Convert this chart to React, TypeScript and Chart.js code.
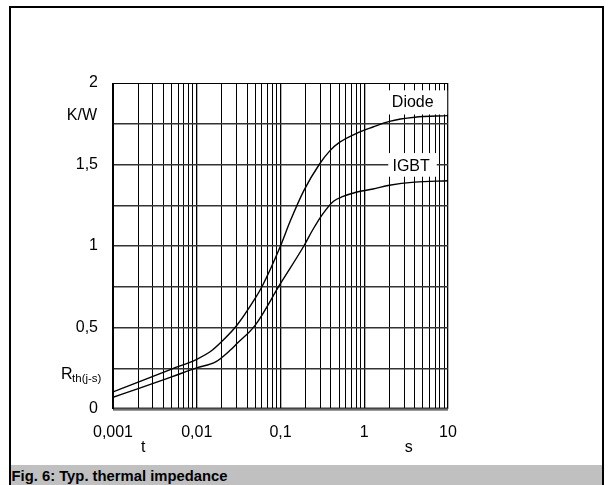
import React, { useEffect, useRef } from 'react';
import { Chart, registerables } from 'chart.js';

Chart.register(...registerables);

const FONT = '"Liberation Sans", Arial, Helvetica, sans-serif';

// Data (t in s, Z_th in K/W)
const diodeT = [0.001, 0.002, 0.005, 0.01, 0.015, 0.02, 0.03, 0.05, 0.06, 0.1, 0.13, 0.19, 0.29, 0.39, 0.51, 0.8, 1.27, 2, 4, 10];
const diodeZ = [0.105, 0.165, 0.245, 0.305, 0.357, 0.415, 0.512, 0.68, 0.75, 1.0, 1.15, 1.34, 1.5, 1.585, 1.637, 1.69, 1.73, 1.765, 1.79, 1.8];
const igbtT = [0.001, 0.002, 0.005, 0.01, 0.017, 0.025, 0.03, 0.05, 0.1, 0.19, 0.24, 0.32, 0.43, 0.56, 0.8, 1.27, 2, 4, 10];
const igbtZ = [0.072, 0.125, 0.197, 0.252, 0.291, 0.36, 0.4, 0.515, 0.77, 1.0, 1.095, 1.197, 1.275, 1.304, 1.33, 1.35, 1.373, 1.392, 1.4];

// Axis ticks
const xDecades = [0.001, 0.01, 0.1, 1, 10];
const xTickLabels = ['0,001', '0,01', '0,1', '1', '10'];
const xMinorMultipliers = [1, 2, 3, 4, 5, 6, 7, 8, 9];
const yTickValues = [0, 0.5, 1, 1.5, 2];
const yTickLabels = ['0', '0,5', '1', '1,5', '2'];

const seriesNames = ['Diode', 'IGBT'];
const caption = 'Fig. 6: Typ. thermal impedance';

const near = (a: number, b: number) => Math.abs(a - b) <= Math.abs(b) * 1e-6 + 1e-9;

function xGridValues(): number[] {
  const vals: number[] = [];
  for (let d = 0; d < xDecades.length - 1; d++) {
    for (const m of xMinorMultipliers) vals.push(Number((m * xDecades[d]).toPrecision(4)));
  }
  vals.push(xDecades[xDecades.length - 1]);
  return vals;
}

const decorPlugin = {
  id: 'decor',
  beforeDraw(chart: any) {
    const { ctx, chartArea } = chart;
    const ys = chart.scales.y;
    const y0 = ys.getPixelForValue(0);
    ctx.save();
    ctx.fillStyle = '#9a9a9a';
    ctx.fillRect(chartArea.left, y0 - 2, chartArea.right - chartArea.left, 4);
    ctx.restore();
  },
  beforeDatasetsDraw(chart: any) {
    const { ctx, chartArea } = chart;
    const xs = chart.scales.x;
    const ys = chart.scales.y;
    const xl = xs.getPixelForValue(2) - 1.2;
    ctx.save();
    ctx.fillStyle = '#fff';
    // Diode label box
    ctx.fillRect(xl, ys.getPixelForValue(1.955), chartArea.right - 0.8 - xl, ys.getPixelForValue(1.807) - ys.getPixelForValue(1.955));
    // IGBT label box
    ctx.fillRect(xl, ys.getPixelForValue(1.57), 48.5, ys.getPixelForValue(1.425) - ys.getPixelForValue(1.57));
    ctx.fillStyle = '#000';
    ctx.font = `16px ${FONT}`;
    ctx.textBaseline = 'alphabetic';
    ctx.textAlign = 'left';
    ctx.fillText(seriesNames[0], xl + 3.6, ys.getPixelForValue(1.855));
    ctx.fillText(seriesNames[1], xl + 4.2, ys.getPixelForValue(1.462));
    ctx.restore();
  },
  afterDraw(chart: any) {
    const { ctx, chartArea } = chart;
    const xs = chart.scales.x;
    ctx.save();
    ctx.fillStyle = '#000';
    ctx.textBaseline = 'alphabetic';
    ctx.font = `16px ${FONT}`;
    // unit
    ctx.textAlign = 'right';
    ctx.fillText('K/W', chartArea.left - 16, 120);
    // R_th(j-s)
    ctx.textAlign = 'left';
    const rx = 61;
    ctx.fillText('R', rx, 379);
    const rw = ctx.measureText('R').width;
    ctx.font = `11.5px ${FONT}`;
    ctx.fillText('th(j-s)', rx + rw - 0.5, 382);
    // t and s
    ctx.font = `16px ${FONT}`;
    ctx.textAlign = 'center';
    ctx.fillText('t', xs.getPixelForValue(0.0023), chartArea.bottom + 42.8);
    ctx.fillText('s', xs.getPixelForValue(3.4), chartArea.bottom + 43);
    ctx.restore();
  },
};

function ThermalChart() {
  const ref = useRef<HTMLCanvasElement | null>(null);
  useEffect(() => {
    if (!ref.current) return;
    Chart.defaults.font.family = FONT;
    const chart = new Chart(ref.current, {
      type: 'line',
      data: {
        datasets: [
          {
            label: seriesNames[0],
            data: diodeT.map((t, i) => ({ x: t, y: diodeZ[i] })),
            borderColor: '#000',
            borderWidth: 1.4,
            pointRadius: 0,
            fill: false,
            cubicInterpolationMode: 'monotone',
          },
          {
            label: seriesNames[1],
            data: igbtT.map((t, i) => ({ x: t, y: igbtZ[i] })),
            borderColor: '#000',
            borderWidth: 1.4,
            pointRadius: 0,
            fill: false,
            cubicInterpolationMode: 'monotone',
          },
        ],
      },
      options: {
        responsive: false,
        animation: false,
        devicePixelRatio: 1,
        layout: { padding: { left: 0, right: 162, top: 83, bottom: 0 } },
        plugins: { legend: { display: false }, tooltip: { enabled: false }, title: { display: false } },
        scales: {
          x: {
            type: 'logarithmic',
            min: 0.001,
            max: 10,
            afterBuildTicks: (s: any) => {
              s.ticks = xGridValues().map((v) => ({ value: v }));
            },
            afterFit: (s: any) => {
              s.height = 76;
            },
            grid: {
              color: '#000',
              lineWidth: (c: any) => (xDecades.some((d) => near(c.tick?.value, d)) ? 1.3 : 1),
              drawTicks: false,
            },
            border: { display: false },
            ticks: {
              autoSkip: false,
              maxRotation: 0,
              minRotation: 0,
              padding: 14,
              color: '#000',
              font: { size: 16, family: FONT },
              callback: (v: any) => {
                const i = xDecades.findIndex((d) => near(Number(v), d));
                return i >= 0 ? xTickLabels[i] : '';
              },
            },
          },
          y: {
            type: 'linear',
            min: 0,
            max: 2,
            afterFit: (s: any) => {
              s.width = 113;
            },
            grid: {
              color: (c: any) => (near(c.tick?.value, 0) ? '#444' : near(c.tick?.value, 2) ? '#000' : '#333'),
              lineWidth: (c: any) => (near(c.tick?.value, 2) ? 1 : 1.5),
              drawTicks: false,
            },
            border: { display: true, color: '#000', width: 1 },
            ticks: {
              stepSize: 0.25,
              padding: 15,
              color: '#000',
              font: { size: 16, family: FONT },
              callback: (v: any) => {
                const i = yTickValues.findIndex((d) => near(Number(v), d));
                return i >= 0 ? yTickLabels[i] : '';
              },
            },
          },
        },
      },
      plugins: [decorPlugin],
    } as any);
    return () => chart.destroy();
  }, []);
  return <canvas ref={ref} width={610} height={485} style={{ position: 'absolute', left: 0, top: 0, width: 610, height: 485 }} />;
}

export default function App() {
  return (
    <div style={{ position: 'fixed', left: 0, top: 0, width: 610, height: 485, overflow: 'hidden', background: '#fff' }}>
      <div
        style={{
          position: 'absolute',
          left: 9,
          top: 6,
          width: 595,
          height: 495,
          border: '2px solid #000',
          boxSizing: 'border-box',
        }}
      />
      <div style={{ position: 'absolute', left: 11, top: 465, width: 591, height: 20, background: '#c0c0c0' }} />
      <div
        style={{
          position: 'absolute',
          left: 11.5,
          top: 465,
          lineHeight: '23px',
          fontFamily: FONT,
          fontWeight: 'bold',
          fontSize: '14.8px',
          color: '#000',
          whiteSpace: 'nowrap',
        }}
      >
        {caption}
      </div>
      <ThermalChart />
    </div>
  );
}
